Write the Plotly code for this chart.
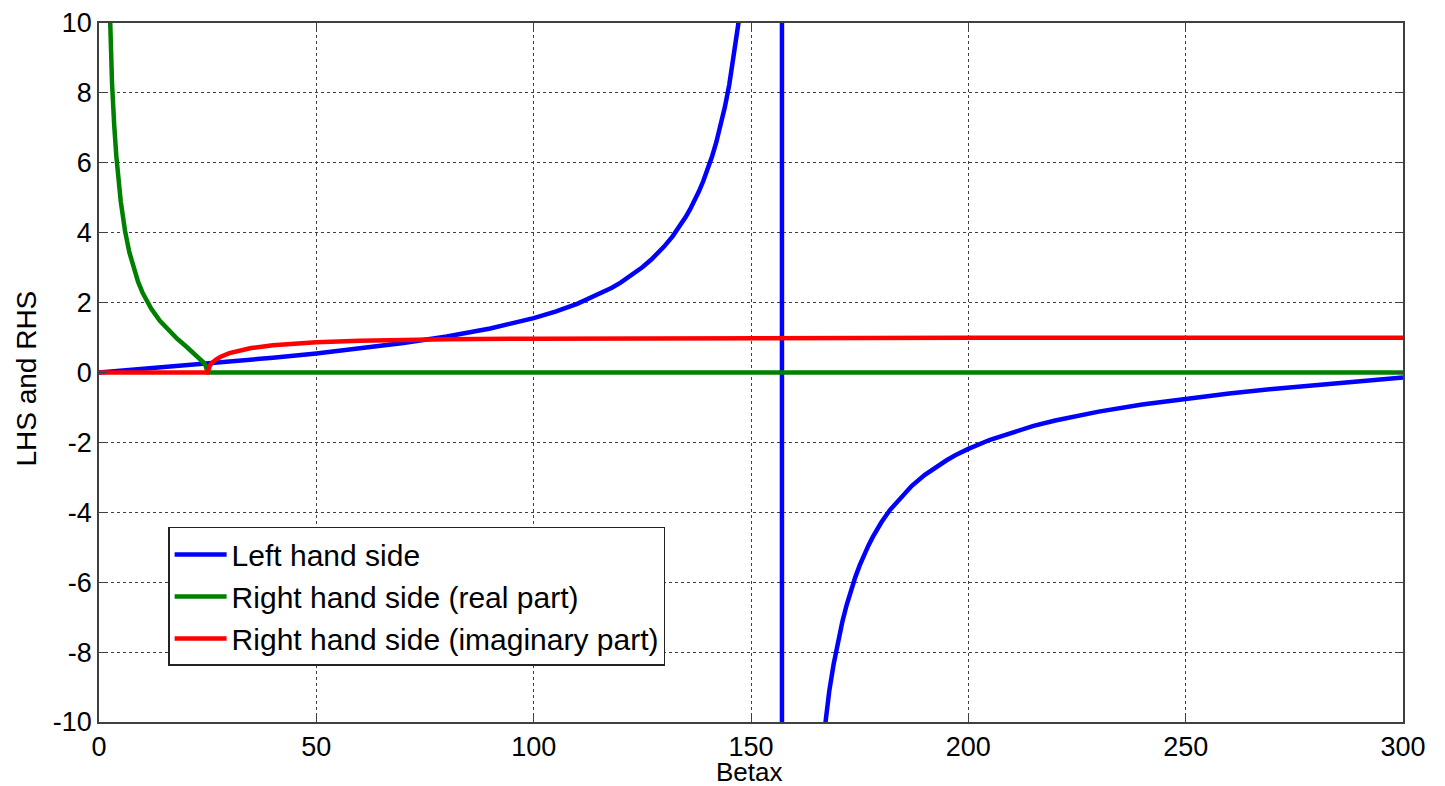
import plotly.graph_objects as go

# ---- data ----
# Left hand side (blue)
lhs_x = [0, 10, 20, 30, 40, 50, 60, 70, 80, 90, 100, 105, 110, 115, 118, 120, 122, 125, 127, 130,
         132, 133, 135, 136, 137, 138, 139, 140, 141, 142, 143, 144, 145, 146, 147, 147.1,
         150, 155, 157,
         157.2, 158, 160, 162, 164, 166, 167, 168, 169, 170, 171, 172, 173, 174, 175, 176, 177,
         178, 180, 182, 185, 187, 190, 192, 195, 197,
         200, 205, 210, 215, 220, 230, 240, 250, 260, 270, 280, 290, 300]
lhs_y = [0, 0.100, 0.203, 0.309, 0.423, 0.546, 0.684, 0.842, 1.030, 1.260, 1.557, 1.743,
         1.965, 2.235, 2.427, 2.572, 2.733, 3.010, 3.224, 3.602,
         3.903, 4.072, 4.455, 4.673, 4.913, 5.177, 5.471, 5.798, 6.165, 6.581, 7.055, 7.602,
         8.238, 8.989, 9.887, 9.987,
         14.10, 48.08, 1255.8,
         -830.6, -108.65, -34.23, -20.31, -14.43, -11.18, -10.05, -9.12, -8.349, -7.697, -7.137,
         -6.652, -6.228, -5.854, -5.520, -5.222, -4.953,
         -4.710, -4.286, -3.929, -3.497, -3.242, -2.927, -2.746, -2.511, -2.370,
         -2.185, -1.924, -1.710, -1.529, -1.374, -1.119, -0.916, -0.747,
         -0.602, -0.473, -0.356, -0.246, -0.143]

# Right hand side, real part (green)
re_x = [2, 2.5, 3, 3.5, 4, 5, 6, 7, 8, 9, 10, 12, 14, 16, 18, 20, 22, 23, 24, 24.5,
        25, 50, 100, 150, 200, 250, 300]
re_y = [12.46, 9.95, 8.27, 7.07, 6.17, 4.90, 4.045, 3.43, 2.96, 2.59, 2.29, 1.83, 1.48,
        1.20, 0.964, 0.75, 0.540, 0.426, 0.292, 0.203,
        0, 0, 0, 0, 0, 0, 0]

# Right hand side, imaginary part (red)
im_x = [0, 10, 20, 25, 25.5, 26, 27, 28, 30, 32, 35, 40, 45, 50, 60, 70, 80, 100,
        125, 150, 200, 250, 300]
im_y = [0, 0, 0, 0, 0.197, 0.275, 0.378, 0.450, 0.553, 0.624, 0.700, 0.781, 0.831,
        0.866, 0.909, 0.934, 0.950, 0.968, 0.980, 0.986, 0.992, 0.995, 0.997]

x_ticks = [0, 50, 100, 150, 200, 250, 300]
y_ticks = [-10, -8, -6, -4, -2, 0, 2, 4, 6, 8, 10]

series_names = ["Left hand side", "Right hand side (real part)",
                "Right hand side (imaginary part)"]
series_colors = ["#0000FF", "#008000", "#FF0000"]
x_title = "Betax"
y_title = "LHS and RHS"

FONT = "Liberation Sans, Arial, sans-serif"

fig = go.Figure()
for (xs, ys), name, col in zip([(lhs_x, lhs_y), (re_x, re_y), (im_x, im_y)],
                               series_names, series_colors):
    fig.add_trace(go.Scatter(x=xs, y=ys, mode="lines", name=name,
                             line=dict(color=col, width=4.5)))

axis_common = dict(
    showline=True, linecolor="#404040", linewidth=1.5, mirror="ticks",
    ticks="inside", ticklen=8, tickcolor="#404040", tickwidth=1,
    showgrid=True, gridcolor="#404040", gridwidth=1, griddash="3px,3px",
    zeroline=False, automargin=False,
    tickfont=dict(family=FONT, size=27, color="black"),
)

fig.update_xaxes(range=[0, 300], tickvals=x_ticks, ticktext=[str(v) for v in x_ticks],
                 **axis_common)
fig.update_yaxes(range=[-10, 10], tickvals=y_ticks, ticktext=[str(v) for v in y_ticks],
                 **axis_common)

fig.add_annotation(text=x_title, xref="paper", yref="paper", x=0.499, y=-0.071,
                   xanchor="center", yanchor="middle", showarrow=False,
                   font=dict(family=FONT, size=26, color="black"))
fig.add_annotation(text=y_title, xref="paper", yref="paper", x=-0.0556, y=0.492,
                   xanchor="center", yanchor="middle", showarrow=False, textangle=-90,
                   font=dict(family=FONT, size=28, color="black"))

# page body adds an 8px offset, so margins are shifted to place the plot area
fig.update_layout(
    width=1445, height=786,
    margin=dict(l=91, r=50, t=15, b=72, autoexpand=False),
    paper_bgcolor="white", plot_bgcolor="white",
    showlegend=True,
    legend=dict(x=0.053, y=0.279, xanchor="left", yanchor="top",
                bgcolor="white", bordercolor="#222222", borderwidth=1.5,
                font=dict(family=FONT, size=30, color="black"),
                itemwidth=52, tracegroupgap=0),
)

fig.write_html("out.html")
